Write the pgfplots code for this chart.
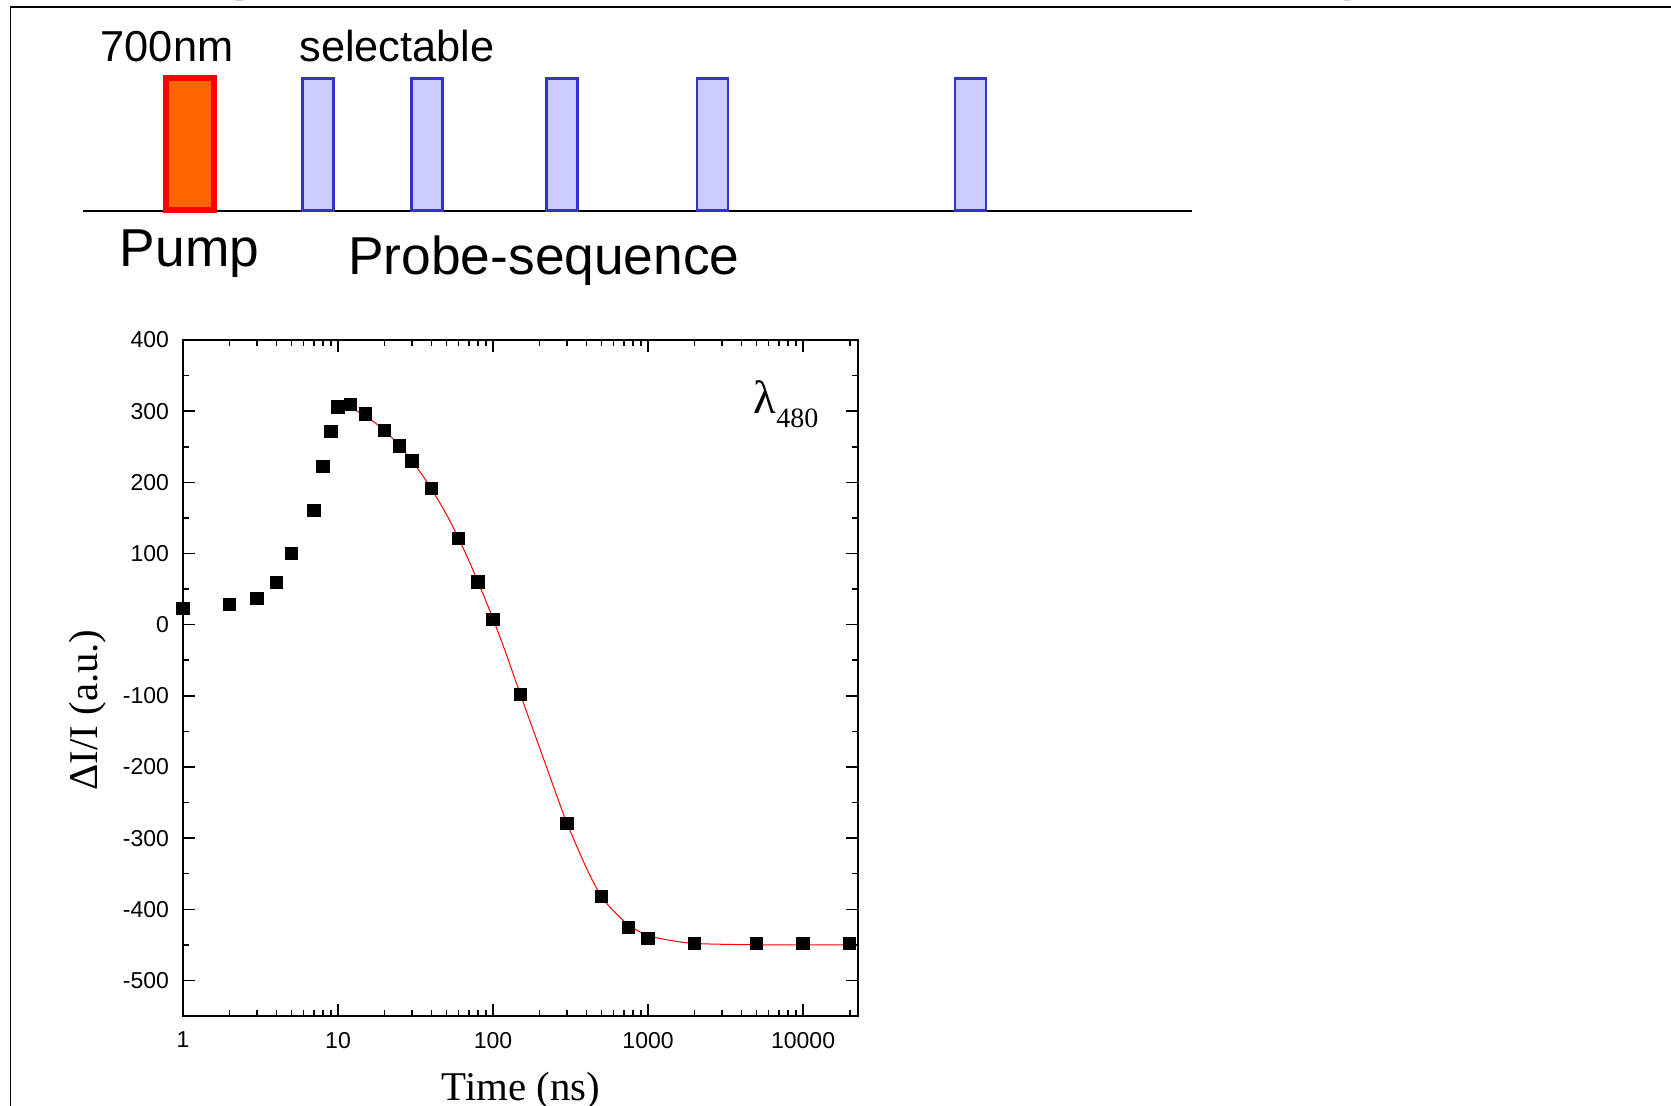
\documentclass[border=0pt]{standalone}
\usepackage{fontspec}
\setmainfont{Liberation Sans}
\newfontfamily\serif{Liberation Serif}
\usepackage{pgfplots}
\pgfplotsset{compat=1.18}
\definecolor{pumpfill}{HTML}{FF6600}
\definecolor{probefill}{HTML}{CCCCFF}
\definecolor{probeedge}{HTML}{3333CC}
\begin{document}
\begin{tikzpicture}
\useasboundingbox (0pt,0pt) rectangle (501.3pt,-331.8pt);
\begin{scope}[x=0.3pt,y=-0.3pt]
% outer frame
\draw[line width=0.45pt] (10.5,7.3) -- (10.5,1106);
\draw[line width=0.6pt] (10,7.3) -- (1671,7.3);
\fill[gray!40] (236,0) rectangle (243,1.5);
\fill[gray!40] (1344,0) rectangle (1350,1.5);
% pulse diagram
\draw[line width=0.6pt] (83,210.5) -- (1192,210.5);
\draw[draw=red, fill=pumpfill, line width=1.8pt] (166.3,78) rectangle (214.3,210.3);
\foreach \a/\b in {302.6/333.6, 411.3/442.3, 546.6/577.7, 696.9/728, 954.8/985.8}
  \draw[draw=probeedge, fill=probefill, line width=0.75pt] (\a,78.3) rectangle (\b,210.7);
\node[anchor=base, inner sep=0, font=\fontsize{13}{15}\selectfont] at (167,61) {700nm};
\node[anchor=base, inner sep=0, font=\fontsize{13}{15}\selectfont] at (397,61) {selectable};
\node[anchor=base, inner sep=0, font=\fontsize{16}{19}\selectfont] at (189.5,266.7) {Pump};
\node[anchor=base, inner sep=0, font=\fontsize{16}{19}\selectfont] at (544,274) {Probe-sequence};
\node[anchor=base west, inner sep=0] at (753,413.3) {\serif\fontsize{14}{16}\selectfont λ\raisebox{-4.2pt}{\fontsize{8.4}{10}\selectfont 480}};
\node[anchor=base, inner sep=0, font={\serif\fontsize{12.25}{14}\selectfont}] at (520.8,1100) {Time (ns)};
\node[rotate=90, anchor=base, inner sep=0, font={\serif\fontsize{12.25}{14}\selectfont}] at (97.3,710) {ΔI/I (a.u.)};
\end{scope}
% chart
\begin{axis}[
  at={(54.9pt,-304.8pt)}, anchor=south west, scale only axis,
  width=202.5pt, height=202.8pt,
  xmode=log, xmin=1, xmax=22600, ymin=-550, ymax=400,
  xtick={1,10,100,1000,10000}, xticklabels={1,10,100,1000,10000},
  minor xtick={2,3,4,5,6,7,8,9,20,30,40,50,60,70,80,90,200,300,400,500,600,700,800,900,2000,3000,4000,5000,6000,7000,8000,9000,20000},
  ytick={-500,-400,-300,-200,-100,0,100,200,300,400},
  yticklabels={-500,-400,-300,-200,-100,0,100,200,300,400},
  minor ytick={-550,-450,-350,-250,-150,-50,50,150,250,350},
  axis line style={line width=0.6pt},
  every tick/.style={black, line width=0.45pt},
  major tick length=3.7pt, minor tick length=1.9pt,
  tick align=inside,
  ticklabel style={font=\fontsize{6.9}{8}\selectfont},
  yticklabel style={xshift=-0.7pt},
  xticklabel style={yshift=-1.3pt},
  clip=false,
]
\addplot[only marks, mark=square*, mark size=1.8pt, black] coordinates {
(1,23) (2,28) (3,37) (4,59) (5,100) (7,160) (8,222) (9,271) (10,306) (12,309)
(15,296) (20,273) (25,251) (30,230) (40,191) (60,121) (80,60) (100,7) (150,-98)
(300,-279) (500,-382) (750,-426) (1000,-441) (2000,-448) (5000,-448) (10000,-448) (20000,-448)
};
\addplot[red, line width=0.3pt, smooth] coordinates {
(12,305) (14,297) (17,285) (20,273) (25,251) (30,230) (35,210) (40,191) (50,155)
(60,121) (70,89.5) (80,60) (90,33) (100,8) (120,-37.7) (150,-98) (200,-173.4)
(250,-232.4) (300,-279) (400,-342) (500,-382) (600,-402.4) (750,-422) (1000,-437)
(1500,-444.9) (2000,-448) (3000,-449.2) (5000,-449.9) (10000,-450) (20000,-450)
};
\end{axis}
\end{tikzpicture}
\end{document}
